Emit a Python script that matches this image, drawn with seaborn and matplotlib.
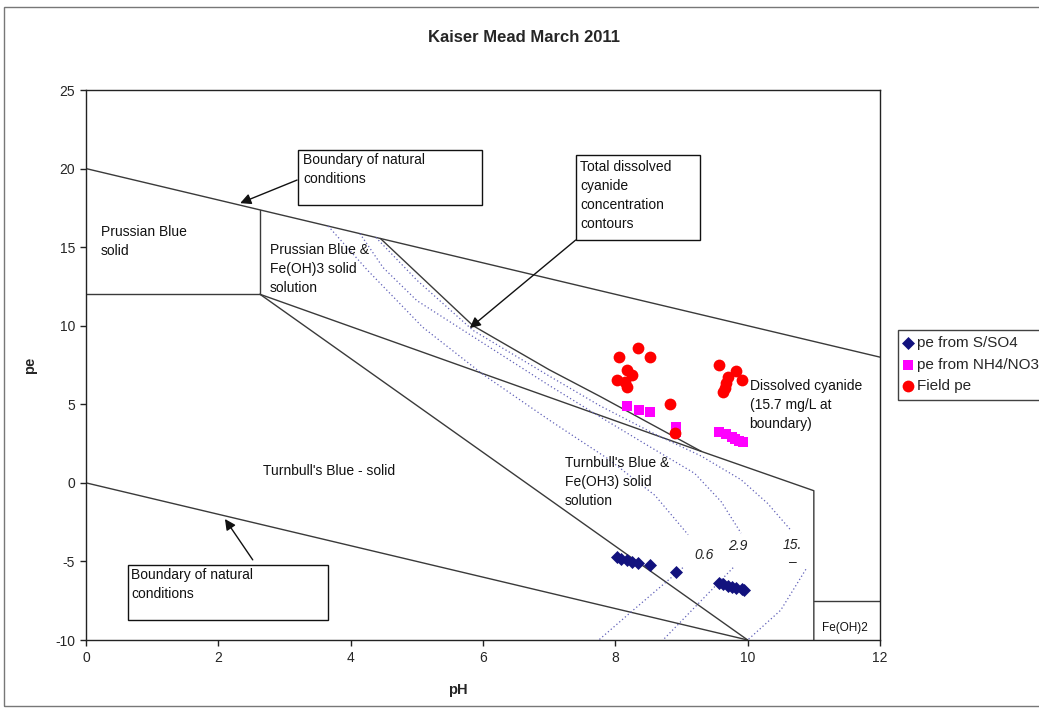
import matplotlib
matplotlib.use("Agg")
import matplotlib.pyplot as plt
import seaborn as sns
from matplotlib.patches import Rectangle

# ---- measured points -------------------------------------------------------
so4_ph = [8.02, 8.09, 8.17, 8.25, 8.35, 8.52, 8.92, 9.56, 9.63, 9.71, 9.77, 9.83, 9.91, 9.95]
so4_pe = [-4.74, -4.83, -4.91, -5.02, -5.08, -5.21, -5.67, -6.35, -6.44, -6.55, -6.65, -6.71, -6.78, -6.82]

nh4_ph = [8.17, 8.36, 8.53, 8.92, 8.92, 9.56, 9.67, 9.76, 9.81, 9.87, 9.93]
nh4_pe = [4.92, 4.64, 4.51, 3.55, 3.24, 3.22, 3.11, 2.94, 2.77, 2.66, 2.58]

field_ph = [8.06, 8.35, 8.53, 8.17, 8.25, 8.03, 8.15, 8.17, 8.83, 8.90,
            9.56, 9.83, 9.71, 9.92, 9.67, 9.66, 9.63]
field_pe = [8.03, 8.56, 8.03, 7.18, 6.86, 6.55, 6.44, 6.08, 5.02, 3.17,
            7.50, 7.14, 6.76, 6.55, 6.33, 6.02, 5.80]

series_labels = ["pe from S/SO4", "pe from NH4/NO3", "Field pe"]

# ---- stability field boundaries (pH, pe) ----------------------------------
upper_nat_ph = [0, 12]
upper_nat_pe = [20, 8]
lower_nat_ph = [0, 10]
lower_nat_pe = [0, -10]
pb_ph = [0, 2.63, 2.63]
pb_pe = [12, 12, 17.37]
turnbull_ph = [2.63, 10]
turnbull_pe = [12, -10]
fe3_lower_ph = [2.63, 9.3, 11, 11]
fe3_lower_pe = [12, 2.0, -0.5, -10]
fe3_upper_ph = [4.45, 5.85, 7.0, 7.77, 9.3]
fe3_upper_pe = [15.55, 10.0, 7.2, 5.5, 2.0]
feoh2_ph = [11, 12]
feoh2_pe = [-7.5, -7.5]

# ---- total dissolved cyanide contours (upper and lower branches) ----------
c06_upper_ph = [3.66, 4.25, 5.09, 6.0, 7.0, 7.9, 8.6, 9.1]
c06_upper_pe = [16.34, 13.55, 9.9, 6.9, 4.0, 1.5, -0.8, -3.3]
c06_lower_ph = [9.02, 8.27, 7.75]
c06_lower_pe = [-5.4, -8.1, -10.0]

c29_upper_ph = [4.14, 4.49, 5.0, 6.0, 7.0, 7.77, 8.6, 9.2, 9.6, 9.9]
c29_upper_pe = [15.86, 13.7, 11.6, 8.9, 6.2, 4.2, 2.1, 0.6, -1.2, -3.2]
c29_lower_ph = [9.78, 9.02, 8.72]
c29_lower_pe = [-5.4, -8.7, -10.0]

c15_upper_ph = [4.38, 5.0, 5.85, 7.0, 7.77, 8.6, 9.3, 9.9, 10.3, 10.65]
c15_upper_pe = [15.62, 12.9, 9.7, 6.8, 4.9, 3.1, 1.7, 0.2, -1.3, -3.0]
c15_lower_ph = [10.88, 10.5, 10.0]
c15_lower_pe = [-5.5, -8.1, -10.0]

sns.set_style("ticks")
plt.rcParams["font.family"] = ["Liberation Sans", "DejaVu Sans"]
plt.rcParams["axes.unicode_minus"] = False

fig = plt.figure(figsize=(10.39, 7.10), dpi=100)
ax = fig.add_axes([86 / 1039, 1 - 640 / 710, 794 / 1039, 550 / 710])

line_kw = dict(color="#3a3a3a", lw=1.0, zorder=2)
for xs, ys in [(upper_nat_ph, upper_nat_pe), (lower_nat_ph, lower_nat_pe),
               (pb_ph, pb_pe), (turnbull_ph, turnbull_pe),
               (fe3_lower_ph, fe3_lower_pe), (fe3_upper_ph, fe3_upper_pe),
               (feoh2_ph, feoh2_pe)]:
    ax.plot(xs, ys, **line_kw)

cont_kw = dict(color="#6060b8", lw=0.9, linestyle=(0, (1, 2)), zorder=2)
for xs, ys in [(c06_upper_ph, c06_upper_pe), (c06_lower_ph, c06_lower_pe),
               (c29_upper_ph, c29_upper_pe), (c29_lower_ph, c29_lower_pe),
               (c15_upper_ph, c15_upper_pe), (c15_lower_ph, c15_lower_pe)]:
    ax.plot(xs, ys, **cont_kw)

sns.scatterplot(x=so4_ph, y=so4_pe, marker="D", color="#12127e", s=44,
                linewidth=0, label=series_labels[0], ax=ax, zorder=5)
sns.scatterplot(x=nh4_ph, y=nh4_pe, marker="s", color="#ff00ff", s=50,
                linewidth=0, label=series_labels[1], ax=ax, zorder=5)
sns.scatterplot(x=field_ph, y=field_pe, marker="o", color="#ff0000", s=72,
                linewidth=0, label=series_labels[2], ax=ax, zorder=6)

ax.set_xlim(0, 12)
ax.set_ylim(-10, 25)
ax.set_xticks(range(0, 13, 2))
ax.set_yticks(range(-10, 26, 5))
ax.tick_params(axis="both", labelsize=10, length=4, width=1, color="#222222",
               direction="out", pad=4)
for s in ax.spines.values():
    s.set_color("#222222")
    s.set_linewidth(1.0)
ax.set_xlabel("")
ax.set_ylabel("")

# region labels
tk = dict(fontsize=10, color="#111111", ha="left", va="center", linespacing=1.45, zorder=4)
ax.text(0.227, 15.33, "Prussian Blue\nsolid", **tk)
ax.text(2.78, 13.61, "Prussian Blue &\nFe(OH)3 solid\nsolution", **tk)
ax.text(2.675, 0.75, "Turnbull's Blue - solid", **tk)
ax.text(7.24, 0.05, "Turnbull's Blue &\nFe(OH3) solid\nsolution", **tk)
ax.text(10.03, 4.95, "Dissolved cyanide\n(15.7 mg/L at\nboundary)", **tk)
ax.text(11.12, -9.24, "Fe(OH)2", fontsize=8.5, color="#111111", ha="left", va="center")

# contour values
ck = dict(fontsize=10, color="#222222", style="italic", ha="center", va="center", zorder=4)
ax.text(9.34, -4.59, "0.6", **ck)
ax.text(9.85, -4.02, "2.9", **ck)
ax.text(10.68, -3.96, "15.", **ck)
ax.text(10.67, -5.04, "\u2013", **ck)

# callout boxes with arrows
boxes = [
    ((3.204, 17.68), 2.781, 3.50, (3.28, 19.97), "Boundary of natural\nconditions"),
    ((7.405, 15.45), 1.874, 5.41, (7.466, 18.29), "Total dissolved\ncyanide\nconcentration\ncontours"),
    ((0.635, -8.73), 3.022, 3.50, (0.68, -6.47), "Boundary of natural\nconditions"),
]
for (x0, y0), w, h, (tx, ty), txt in boxes:
    ax.add_patch(Rectangle((x0, y0), w, h, facecolor="white", edgecolor="#111111",
                           lw=1.0, zorder=7))
    ax.text(tx, ty, txt, fontsize=10, color="#111111", ha="left", va="center",
            linespacing=1.45, zorder=8)

arrow_kw = dict(arrowstyle="-|>", color="#111111", lw=1.0, mutation_scale=16,
                shrinkA=0, shrinkB=0)
for tip, tail in [((2.33, 17.8), (3.19, 19.27)),
                  ((5.80, 9.85), (7.40, 15.45)),
                  ((2.10, -2.3), (2.52, -4.9))]:
    ax.annotate("", xy=tip, xytext=tail, xycoords="data", textcoords="data",
                arrowprops=arrow_kw, zorder=6)

# titles
fig.text(524 / 1039, 1 - 38 / 710, "Kaiser Mead March 2011", fontsize=12,
         fontweight="bold", ha="center", va="center")
fig.text(458 / 1039, 1 - 690 / 710, "pH", fontsize=10.5, fontweight="bold",
         ha="center", va="center")
fig.text(30 / 1039, 1 - 365 / 710, "pe", fontsize=10.5, fontweight="bold",
         ha="center", va="center", rotation=90)

leg = ax.legend(loc="upper left", bbox_to_anchor=(898 / 1039, 1 - 330 / 710),
                bbox_transform=fig.transFigure, frameon=True, fancybox=False,
                edgecolor="#111111", fontsize=11, handlelength=0.5,
                handletextpad=0.35, labelspacing=0.5, borderpad=0.4,
                borderaxespad=0)
leg.get_frame().set_linewidth(1.0)

# outer chart frame
fig.add_artist(Rectangle((4 / 1039, 4 / 710), 1.05, 699 / 710, transform=fig.transFigure,
                         fill=False, edgecolor="#777777", lw=1.0))

fig.savefig("out.png", dpi=100)
